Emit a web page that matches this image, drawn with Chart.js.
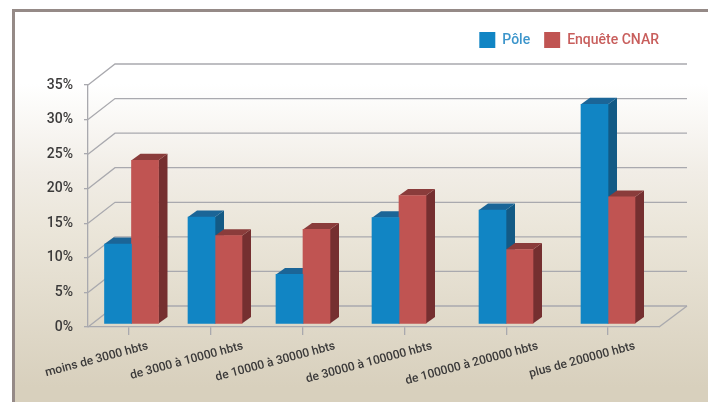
<!DOCTYPE html>
<html>
<head>
<meta charset="utf-8">
<script src="https://cdn.jsdelivr.net/npm/chart.js@4"></script>
<style>
  html, body { margin: 0; padding: 0; background: #fff; }
  #panel {
    position: absolute; left: 12px; top: 9px; width: 696px; height: 393px;
    box-sizing: border-box; border-left: 3px solid #958a87; border-top: 3px solid #958a87;
    background: linear-gradient(#fff 0, #fff 72px, #f1ede6 160px, #ebe6da 215px, #d8d0bd 375px);
  }
  #wrap { position: absolute; left: 0; top: 0; width: 708px; height: 402px; }
</style>
</head>
<body>
<div id="panel"></div>
<div id="wrap"><canvas id="chart" width="708" height="402"></canvas></div>
<script>
const categories = ["moins de 3000 hbts", "de 3000 à 10000 hbts", "de 10000 à 30000 hbts",
  "de 30000 à 100000 hbts", "de 100000 à 200000 hbts", "plus de 200000 hbts"];
const pole = [11.5, 15.4, 7.1, 15.3, 16.4, 31.7];
const enquete = [23.6, 12.7, 13.6, 18.5, 10.7, 18.3];

// the categories are not evenly spaced in the picture, so x is a linear axis
const slotEdges = [0, 81, 164, 266, 368, 469, 571];
const groupCentres = [43.5, 127, 215, 311, 418, 520];
const labelAnchors = [60, 155, 247, 344, 450, 547];

const FONT = "Roboto";
const LINE = "#a9a9ae";
const DEPTH = { dx: 27, dy: 21 };
const BAR_DEPTH = { dx: 9, dy: 6.5 };
const shades = [
  { top: "#1b6597", side: "#135a85" },
  { top: "#8a3c3b", side: "#752f30" }
];

const points = vals => vals.map((v, i) => ({ x: groupCentres[i], y: v }));

const walls = {
  id: "walls",
  beforeDatasetsDraw(chart) {
    const { ctx, scales: { y }, chartArea: a } = chart;
    ctx.save();
    ctx.strokeStyle = LINE;
    ctx.lineWidth = 1.3;
    y.ticks.forEach(t => {
      const p = y.getPixelForValue(t.value);
      ctx.beginPath();
      ctx.moveTo(a.left, p);
      ctx.lineTo(a.left + DEPTH.dx, p - DEPTH.dy);
      ctx.lineTo(a.right + DEPTH.dx + 1, p - DEPTH.dy);
      ctx.stroke();
    });
    ctx.beginPath();
    ctx.moveTo(a.right, a.bottom);
    ctx.lineTo(a.right + DEPTH.dx + 1, a.bottom - DEPTH.dy);
    ctx.stroke();
    // side and top faces go under the fronts, blue first
    chart.data.datasets.forEach((ds, i) => {
      chart.getDatasetMeta(i).data.forEach(bar => {
        const l = bar.x - bar.width / 2, r = bar.x + bar.width / 2;
        const { dx, dy } = BAR_DEPTH;
        ctx.fillStyle = shades[i].side;
        ctx.beginPath();
        ctx.moveTo(r, bar.y); ctx.lineTo(r + dx, bar.y - dy);
        ctx.lineTo(r + dx, bar.base - dy); ctx.lineTo(r, bar.base);
        ctx.closePath(); ctx.fill();
        ctx.fillStyle = shades[i].top;
        ctx.beginPath();
        ctx.moveTo(l, bar.y); ctx.lineTo(l + dx, bar.y - dy);
        ctx.lineTo(r + dx, bar.y - dy); ctx.lineTo(r, bar.y);
        ctx.closePath(); ctx.fill();
      });
    });
    ctx.restore();
  }
};

const legendPlace = {
  id: "legendPlace",
  afterLayout(chart) {
    const lg = chart.legend;
    lg.top = 18; lg.bottom = 62;
    lg.left += 14; lg.right += 14;
  }
};

new Chart(document.getElementById("chart"), {
  type: "bar",
  plugins: [walls, legendPlace],
  data: {
    datasets: [
      { label: "Pôle", data: points(pole), backgroundColor: "#1185c4", xAxisID: "x", yAxisID: "yBar", barThickness: 27 },
      { label: "Enquête CNAR", data: points(enquete), backgroundColor: "#c05452", xAxisID: "x", yAxisID: "yBar", barThickness: 27 }
    ]
  },
  options: {
    responsive: false,
    animation: false,
    layout: { padding: { top: 45, right: 49, left: 0, bottom: 0 } },
    plugins: {
      tooltip: { enabled: false },
      legend: {
        position: "top",
        align: "end",
        labels: {
          boxWidth: 16, boxHeight: 16, padding: 14,
          font: { family: FONT, size: 14, weight: "500" },
          generateLabels(chart) {
            const cols = ["#3c95cb", "#c85e5c"];
            return Chart.defaults.plugins.legend.labels.generateLabels(chart)
              .map((it, i) => ({ ...it, fontColor: cols[i], lineWidth: 0 }));
          }
        }
      }
    },
    scales: {
      x: {
        type: "linear", position: "bottom", weight: 0, offset: false,
        min: 0, max: 571,
        afterBuildTicks(s) { s.ticks = slotEdges.map(v => ({ value: v })); },
        afterFit(s) { s.height = 0; },
        ticks: { display: false },
        grid: { drawOnChartArea: false, color: LINE, lineWidth: 1.3, tickLength: 8 },
        border: { color: LINE, width: 1.3 }
      },
      x2: {
        type: "linear", axis: "x", position: "bottom", weight: 1, offset: false,
        min: 0, max: 571,
        afterBuildTicks(s) { s.ticks = labelAnchors.map(v => ({ value: v })); },
        afterFit(s) { s.height = 75; },
        grid: { display: false, drawTicks: false },
        border: { display: false },
        ticks: {
          autoSkip: false, minRotation: 15, maxRotation: 15, padding: 12,
          color: "#3b3a3a",
          font: { family: FONT, size: 12, weight: "500" },
          callback: (v, i) => categories[i]
        }
      },
      y: {
        type: "linear", position: "left", min: 0, max: 35,
        afterFit(s) { s.width = 88; },
        ticks: {
          stepSize: 5, padding: 11, color: "#3b3a3a",
          font: { family: FONT, size: 14, weight: "500" },
          callback: v => v + "%"
        },
        grid: { drawOnChartArea: false, color: LINE, lineWidth: 1.3, tickLength: 4 },
        border: { color: LINE, width: 1.3 }
      },
      // bars stand a little inside the floor, 3.5px above the front edge
      yBar: { type: "linear", display: false, min: -0.51, max: 34.49 }
    }
  }
});
</script>
</body>
</html>
